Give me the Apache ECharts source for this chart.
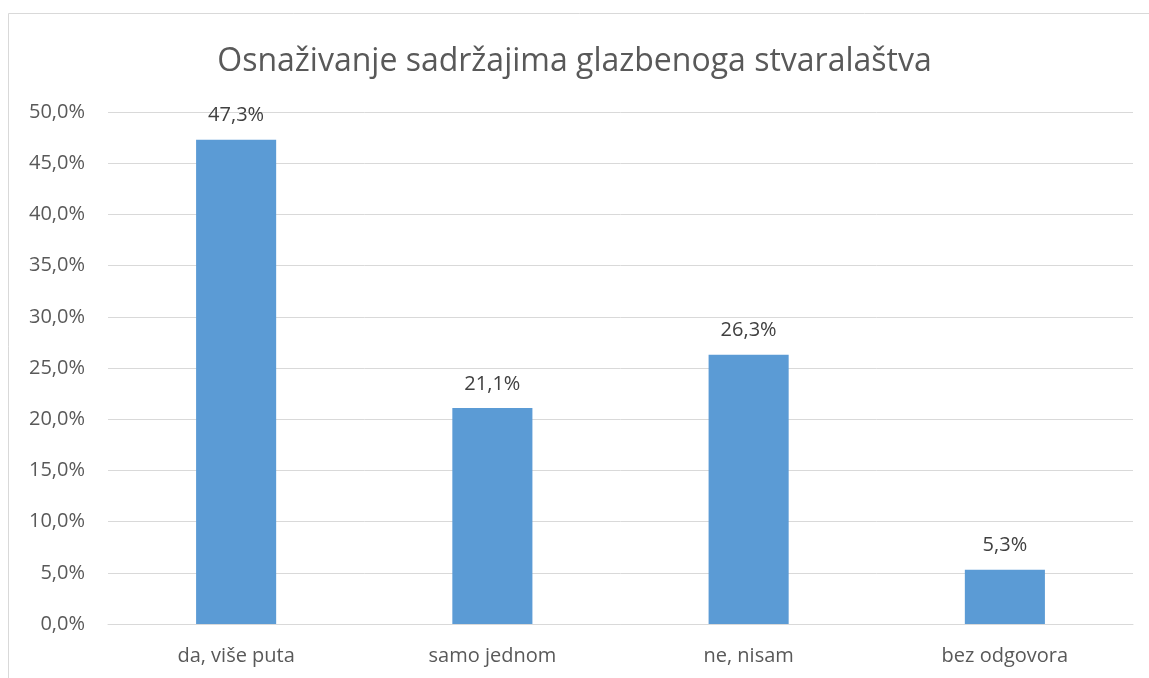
<!DOCTYPE html>
<html><head><meta charset="utf-8">
<script src="https://cdn.jsdelivr.net/npm/echarts@6/dist/echarts.min.js"></script>
<style>html,body{margin:0;padding:0;background:#fff}#c{width:1149px;height:678px}</style>
</head><body><div id="c"></div>
<script>
const title = 'Osnaživanje sadržajima glazbenoga stvaralaštva';
const categories = ['da, više puta', 'samo jednom', 'ne, nisam', 'bez odgovora'];
const values = [47.3, 21.1, 26.3, 5.3];
const yTicks = {min: 0, max: 50, interval: 5};
const fmt = v => v.toFixed(1).replace('.', ',') + '%';
const FONT = '"Open Sans", "Noto Sans", sans-serif';
const chart = echarts.init(document.getElementById('c'));
chart.setOption({
  animation: false,
  backgroundColor: '#fff',
  textStyle: {fontFamily: FONT},
  graphic: [{type: 'rect', shape: {x: 8.5, y: 13.5, width: 1300, height: 800},
    style: {fill: 'none', stroke: '#d9d9d9', lineWidth: 1}, silent: true}],
  title: {text: title, left: 'center', top: 41,
    textStyle: {fontFamily: FONT, fontSize: 32, fontWeight: 'normal', color: '#595959'}},
  grid: {left: 108, right: 16, top: 112, bottom: 54, containLabel: false},
  xAxis: {type: 'category', data: categories,
    axisLine: {lineStyle: {color: '#d9d9d9'}}, axisTick: {show: false},
    axisLabel: {color: '#595959', fontSize: 20, margin: 22, fontFamily: FONT}},
  yAxis: {type: 'value', min: yTicks.min, max: yTicks.max, interval: yTicks.interval,
    axisLine: {show: false}, axisTick: {show: false},
    splitLine: {lineStyle: {color: '#d9d9d9', width: 1}},
    axisLabel: {color: '#595959', fontSize: 20, margin: 23, fontFamily: FONT, formatter: v => fmt(v)}},
  series: [{type: 'bar', data: values, barWidth: '31.25%',
    itemStyle: {color: '#5b9bd5'},
    label: {show: true, position: 'top', distance: 14, color: '#404040', fontSize: 20, fontFamily: FONT,
      formatter: p => fmt(p.value)}}]
});
</script></body></html>
